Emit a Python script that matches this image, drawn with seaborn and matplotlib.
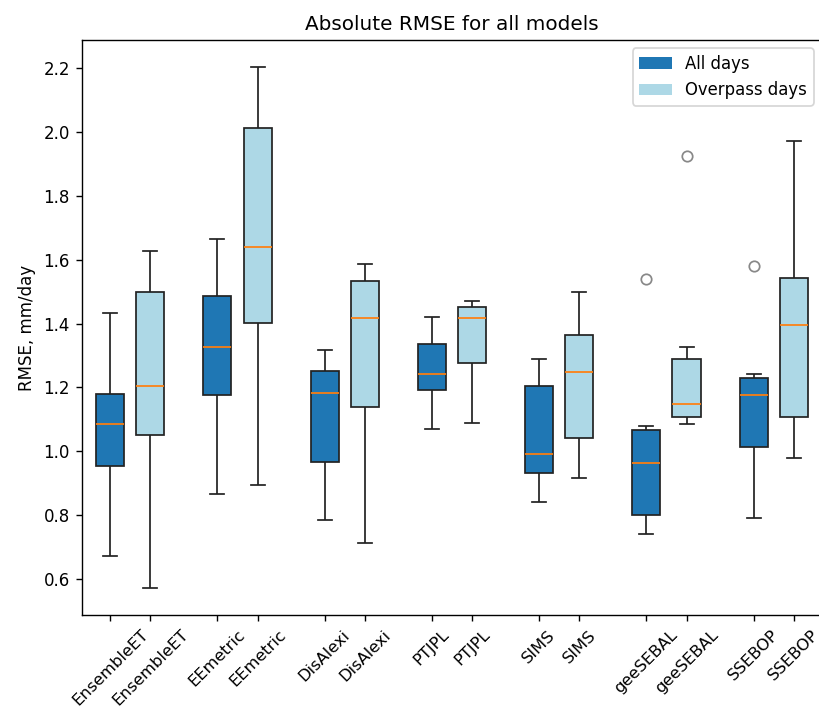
"""Boxplots of absolute RMSE per model, all days vs overpass days."""

import matplotlib

matplotlib.use("Agg")
import matplotlib.pyplot as plt
import pandas as pd
import seaborn as sns
from matplotlib.patches import Patch

models = ["EnsembleET", "EEmetric", "DisAlexi", "PTJPL", "SIMS", "geeSEBAL", "SSEBOP"]
periods = ["All days", "Overpass days"]

# RMSE samples (mm/day) read off the boxes: low whisker, q1, median, q3, high whisker
# (9-value sets where an outlier is shown)
all_days_rmse = [
    [0.671, 0.953, 1.084, 1.178, 1.434],
    [0.866, 1.176, 1.325, 1.485, 1.666],
    [0.786, 0.967, 1.184, 1.251, 1.317],
    [1.069, 1.192, 1.243, 1.336, 1.419],
    [0.840, 0.932, 0.991, 1.203, 1.290],
    [0.742, 0.780, 0.802, 0.900, 0.964, 1.030, 1.066, 1.078, 1.538],
    [0.791, 0.950, 1.012, 1.100, 1.176, 1.200, 1.228, 1.243, 1.581],
]
overpass_rmse = [
    [0.571, 1.051, 1.203, 1.499, 1.628],
    [0.895, 1.401, 1.638, 2.011, 2.203],
    [0.712, 1.140, 1.417, 1.533, 1.585],
    [1.088, 1.277, 1.418, 1.451, 1.471],
    [0.916, 1.043, 1.249, 1.364, 1.499],
    [1.084, 1.100, 1.107, 1.130, 1.147, 1.220, 1.290, 1.327, 1.924],
    [0.980, 1.107, 1.396, 1.544, 1.972],
]

colors = {"All days": "#1f77b4", "Overpass days": "lightblue"}

rows = []
tick_pos, tick_labels = [], []
for i, name in enumerate(models):
    for period, series, offset in [
        ("All days", all_days_rmse, -0.1875),
        ("Overpass days", overpass_rmse, 0.1875),
    ]:
        pos = i + offset
        tick_pos.append(pos)
        tick_labels.append(name)
        for v in series[i]:
            rows.append({"pos": pos, "period": period, "rmse": v})
df = pd.DataFrame(rows)

plt.rcParams["font.size"] = 9.6

# original figure is cropped on the right, so the axes run past the edge
fig = plt.figure(figsize=(819 / 125, 712 / 125), dpi=125)
ax = fig.add_axes([0.1001, 0.1362, 0.9035, 0.8076])

sns.boxplot(
    data=df,
    x="pos",
    y="rmse",
    hue="period",
    hue_order=periods,
    palette=colors,
    native_scale=True,
    dodge=False,
    width=0.7,
    saturation=1,
    linecolor="#222222",
    linewidth=1,
    medianprops=dict(color="#ff7f0e", linewidth=1),
    flierprops=dict(marker="o", markerfacecolor="none", markeredgecolor="#888888", markersize=6),
    legend=False,
    ax=ax,
)

ax.set_xlim(-0.45, 6.45)
ax.set_ylim(0.4875, 2.2875)
ax.set_yticks([0.6, 0.8, 1.0, 1.2, 1.4, 1.6, 1.8, 2.0, 2.2])
ax.set_yticklabels([f"{t:.1f}" for t in ax.get_yticks()])
ax.set_xticks(tick_pos)
ax.set_xticklabels(tick_labels, rotation=45, fontsize=9.4)
ax.set_xlabel("")
ax.set_ylabel("RMSE, mm/day")
ax.set_title("Absolute RMSE for all models", fontsize=11.5)

handles = [Patch(facecolor=colors[p], label=p) for p in periods]
ax.legend(handles=handles, loc="upper right", fontsize=9.5)

fig.savefig("out.png", dpi=125)
plt.close(fig)
